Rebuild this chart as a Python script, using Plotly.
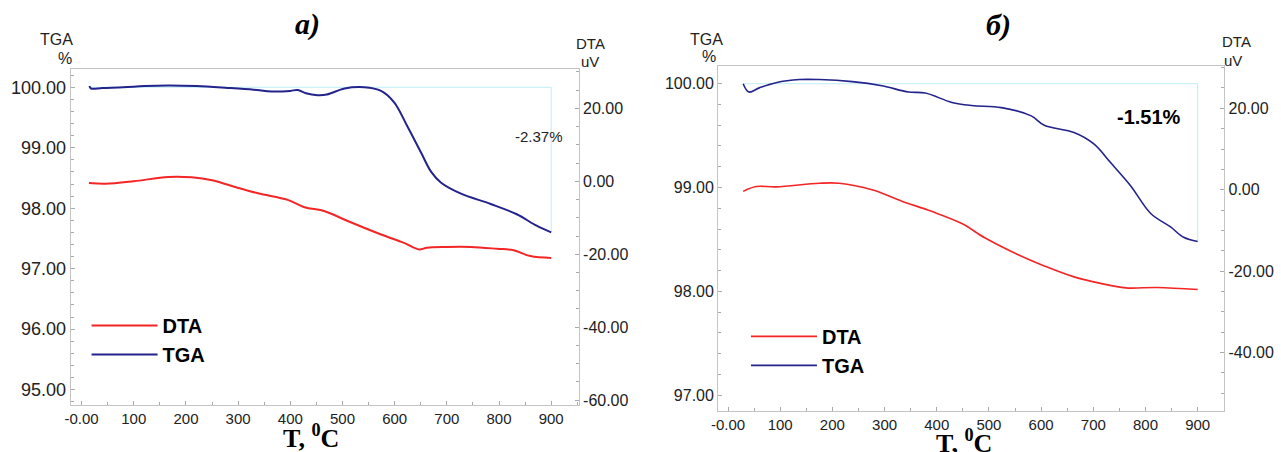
import plotly.graph_objects as go

# ---------------- data: panel a) ----------------
a_tga_T = [15, 18, 40, 80, 120, 166, 220, 280, 330, 364, 400, 414, 430, 452, 470, 504, 542, 574, 599, 624, 650, 670, 689, 727, 784, 834, 872, 900]
a_tga_v = [100.02, 99.98, 99.99, 100.00, 100.02, 100.03, 100.02, 99.99, 99.96, 99.93, 99.94, 99.955, 99.90, 99.87, 99.88, 99.98, 100.00, 99.94, 99.75, 99.36, 98.93, 98.60, 98.42, 98.24, 98.07, 97.90, 97.71, 97.60]
a_dta_T = [14, 46, 100, 166, 211, 250, 288, 338, 395, 427, 466, 510, 574, 618, 647, 662, 700, 746, 796, 828, 860, 900]
a_dta_v = [-0.5, -0.7, 0.0, 1.2, 1.1, 0.3, -1.3, -3.3, -5.1, -7.1, -8.2, -10.9, -14.6, -16.9, -18.7, -18.2, -18.0, -18.0, -18.5, -18.9, -20.5, -21.0]
a_loss_label = "-2.37%"

# ---------------- data: panel б) ----------------
b_tga_T = [29, 40, 60, 92, 137, 175, 238, 295, 346, 378, 429, 467, 524, 581, 606, 663, 701, 733, 771, 810, 848, 873, 900]
b_tga_v = [100.0, 99.92, 99.96, 100.01, 100.04, 100.04, 100.02, 99.98, 99.92, 99.91, 99.82, 99.79, 99.77, 99.69, 99.60, 99.53, 99.42, 99.24, 99.02, 98.75, 98.62, 98.52, 98.48]
b_dta_T = [29, 54, 92, 175, 213, 276, 333, 390, 448, 492, 555, 606, 663, 714, 762, 823, 900]
b_dta_v = [-0.4, 0.8, 0.7, 1.6, 1.6, 0.0, -2.8, -5.3, -8.3, -11.8, -15.9, -18.7, -21.4, -23.0, -24.1, -24.0, -24.5]
b_loss_label = "-1.51%"

# ---------------- ticks ----------------
x_tickvals = [0, 100, 200, 300, 400, 500, 600, 700, 800, 900]
x_ticktext = ["-0.00", "100", "200", "300", "400", "500", "600", "700", "800", "900"]
a_tga_ticks = [95, 96, 97, 98, 99, 100]
a_tga_text = ["95.00", "96.00", "97.00", "98.00", "99.00", "100.00"]
a_dta_ticks = [-60, -40, -20, 0, 20]
a_dta_text = ["-60.00", "-40.00", "-20.00", "0.00", "20.00"]
b_tga_ticks = [97, 98, 99, 100]
b_tga_text = ["97.00", "98.00", "99.00", "100.00"]
b_dta_ticks = [-40, -20, 0, 20]
b_dta_text = ["-40.00", "-20.00", "0.00", "20.00"]

RED = "#f42525"
BLUE = "#23238c"
CYAN = "#bdeef4"
AXC = "#c4c4c4"
TXT = "#222222"
SANS = "Liberation Sans, Arial, sans-serif"
SERIF = "Liberation Serif, Times New Roman, serif"

W, H = 1281, 452
def px(x):
    return x / W
def py(y):
    return (H - y) / H

fig = go.Figure()

# panel a
fig.add_trace(go.Scatter(x=[a_tga_T[0], 900, 900], y=[100.0, 100.0, a_tga_v[-1]], mode="lines",
                         line=dict(color=CYAN, width=1), showlegend=False, hoverinfo="skip",
                         xaxis="x", yaxis="y"))
fig.add_trace(go.Scatter(x=a_dta_T, y=a_dta_v, mode="lines", name="DTA", line=dict(color=RED, width=2),
                         xaxis="x", yaxis="y2", legend="legend", line_shape="spline"))
fig.add_trace(go.Scatter(x=a_tga_T, y=a_tga_v, mode="lines", name="TGA", line=dict(color=BLUE, width=2),
                         xaxis="x", yaxis="y", legend="legend", line_shape="spline"))

# panel b
fig.add_trace(go.Scatter(x=[b_tga_T[0], 900, 900], y=[100.0, 100.0, b_tga_v[-1]], mode="lines",
                         line=dict(color=CYAN, width=1), showlegend=False, hoverinfo="skip",
                         xaxis="x2", yaxis="y3"))
fig.add_trace(go.Scatter(x=b_dta_T, y=b_dta_v, mode="lines", name="DTA", line=dict(color=RED, width=1.6),
                         xaxis="x2", yaxis="y4", legend="legend2", line_shape="spline"))
fig.add_trace(go.Scatter(x=b_tga_T, y=b_tga_v, mode="lines", name="TGA", line=dict(color=BLUE, width=1.6),
                         xaxis="x2", yaxis="y3", legend="legend2", line_shape="spline"))

common = dict(showgrid=False, zeroline=False, showline=True, linecolor=AXC, linewidth=1,
              ticks="inside", ticklen=4, tickcolor="#aaaaaa", tickwidth=1,
              tickfont=dict(family=SANS, size=15, color=TXT))

xcommon = dict(common, tickvals=x_tickvals, ticktext=x_ticktext, mirror=True,
               minor=dict(dtick=50, tick0=0, ticks="inside", ticklen=3, tickcolor="#aaaaaa"))

fig.update_layout(
    width=W, height=H, margin=dict(l=0, r=0, t=0, b=0),
    paper_bgcolor="white", plot_bgcolor="white",
    xaxis=dict(xcommon, domain=[px(64), px(575)], anchor="y", range=[-21, 953]),
    yaxis=dict(common, domain=[py(408), py(69)], anchor="x", range=[94.74, 100.31],
               tickvals=a_tga_ticks, ticktext=a_tga_text,
               tickfont=dict(family=SANS, size=18, color=TXT),
               minor=dict(dtick=0.2, tick0=95, ticks="inside", ticklen=3, tickcolor="#aaaaaa")),
    yaxis2=dict(common, overlaying="y", side="right", anchor="x", range=[-61.4, 30.9],
                tickvals=a_dta_ticks, ticktext=a_dta_text,
                tickfont=dict(family=SANS, size=16, color=TXT),
                minor=dict(dtick=5, tick0=0, ticks="inside", ticklen=3, tickcolor="#aaaaaa")),
    xaxis2=dict(xcommon, domain=[px(715), px(1224)], anchor="y3", range=[-19, 951]),
    yaxis3=dict(common, domain=[py(414), py(66)], anchor="x2", range=[96.844, 100.175],
                tickvals=b_tga_ticks, ticktext=b_tga_text,
                tickfont=dict(family=SANS, size=16, color=TXT),
                minor=dict(dtick=0.2, tick0=97, ticks="inside", ticklen=3, tickcolor="#aaaaaa")),
    yaxis4=dict(common, overlaying="y3", side="right", anchor="x2", range=[-54.4, 30.5],
                tickvals=b_dta_ticks, ticktext=b_dta_text,
                tickfont=dict(family=SANS, size=16, color=TXT),
                minor=dict(dtick=5, tick0=0, ticks="inside", ticklen=3, tickcolor="#aaaaaa")),
    legend=dict(x=px(80), y=py(308), xanchor="left", yanchor="top", bgcolor="rgba(0,0,0,0)",
                font=dict(family=SANS, size=20, color="black", weight="bold"),
                itemwidth=66, tracegroupgap=0),
    legend2=dict(x=px(743), y=py(319), xanchor="left", yanchor="top", bgcolor="rgba(0,0,0,0)",
                 font=dict(family=SANS, size=20, color="black", weight="bold"),
                 itemwidth=66, tracegroupgap=0),
)

ann = []
def label(text, x, y, size, family=SANS, bold=False, italic=False, xanchor="center", color=TXT):
    ann.append(dict(text=text, x=px(x), y=py(y), xref="paper", yref="paper", showarrow=False,
                    xanchor=xanchor, yanchor="middle",
                    font=dict(family=family, size=size, color=color,
                              weight="bold" if bold else "normal",
                              style="italic" if italic else "normal")))

label("a)", 302, 24, 30, family=SERIF, bold=True, italic=True, color="black")
label("б)", 997, 25, 30, family=SERIF, bold=True, italic=True, color="black")
label("T, <sup>0</sup>C", 306, 439, 26, family=SERIF, bold=True, color="black")
label("T, <sup>0</sup>C", 962, 444, 26, family=SERIF, bold=True, color="black")
label("TGA", 50, 40, 16)
label("%", 58, 59, 16)
label("DTA", 587, 44, 15)
label("uV", 586, 62, 15)
label("TGA", 703, 40, 16)
label("%", 706, 57, 16)
label("DTA", 1236, 42, 15)
label("uV", 1233, 61, 15)

fig.update_layout(annotations=ann)
fig.add_annotation(text=a_loss_label, x=876, y=99.19, xref="x", yref="y", showarrow=False,
                   font=dict(family=SANS, size=15, color=TXT))
fig.add_annotation(text=b_loss_label, x=806, y=99.68, xref="x2", yref="y3", showarrow=False,
                   font=dict(family=SANS, size=20, color="black", weight="bold"))

fig.write_html("out.html", config={"displayModeBar": False},
               post_script="document.body.style.margin='0px';")
